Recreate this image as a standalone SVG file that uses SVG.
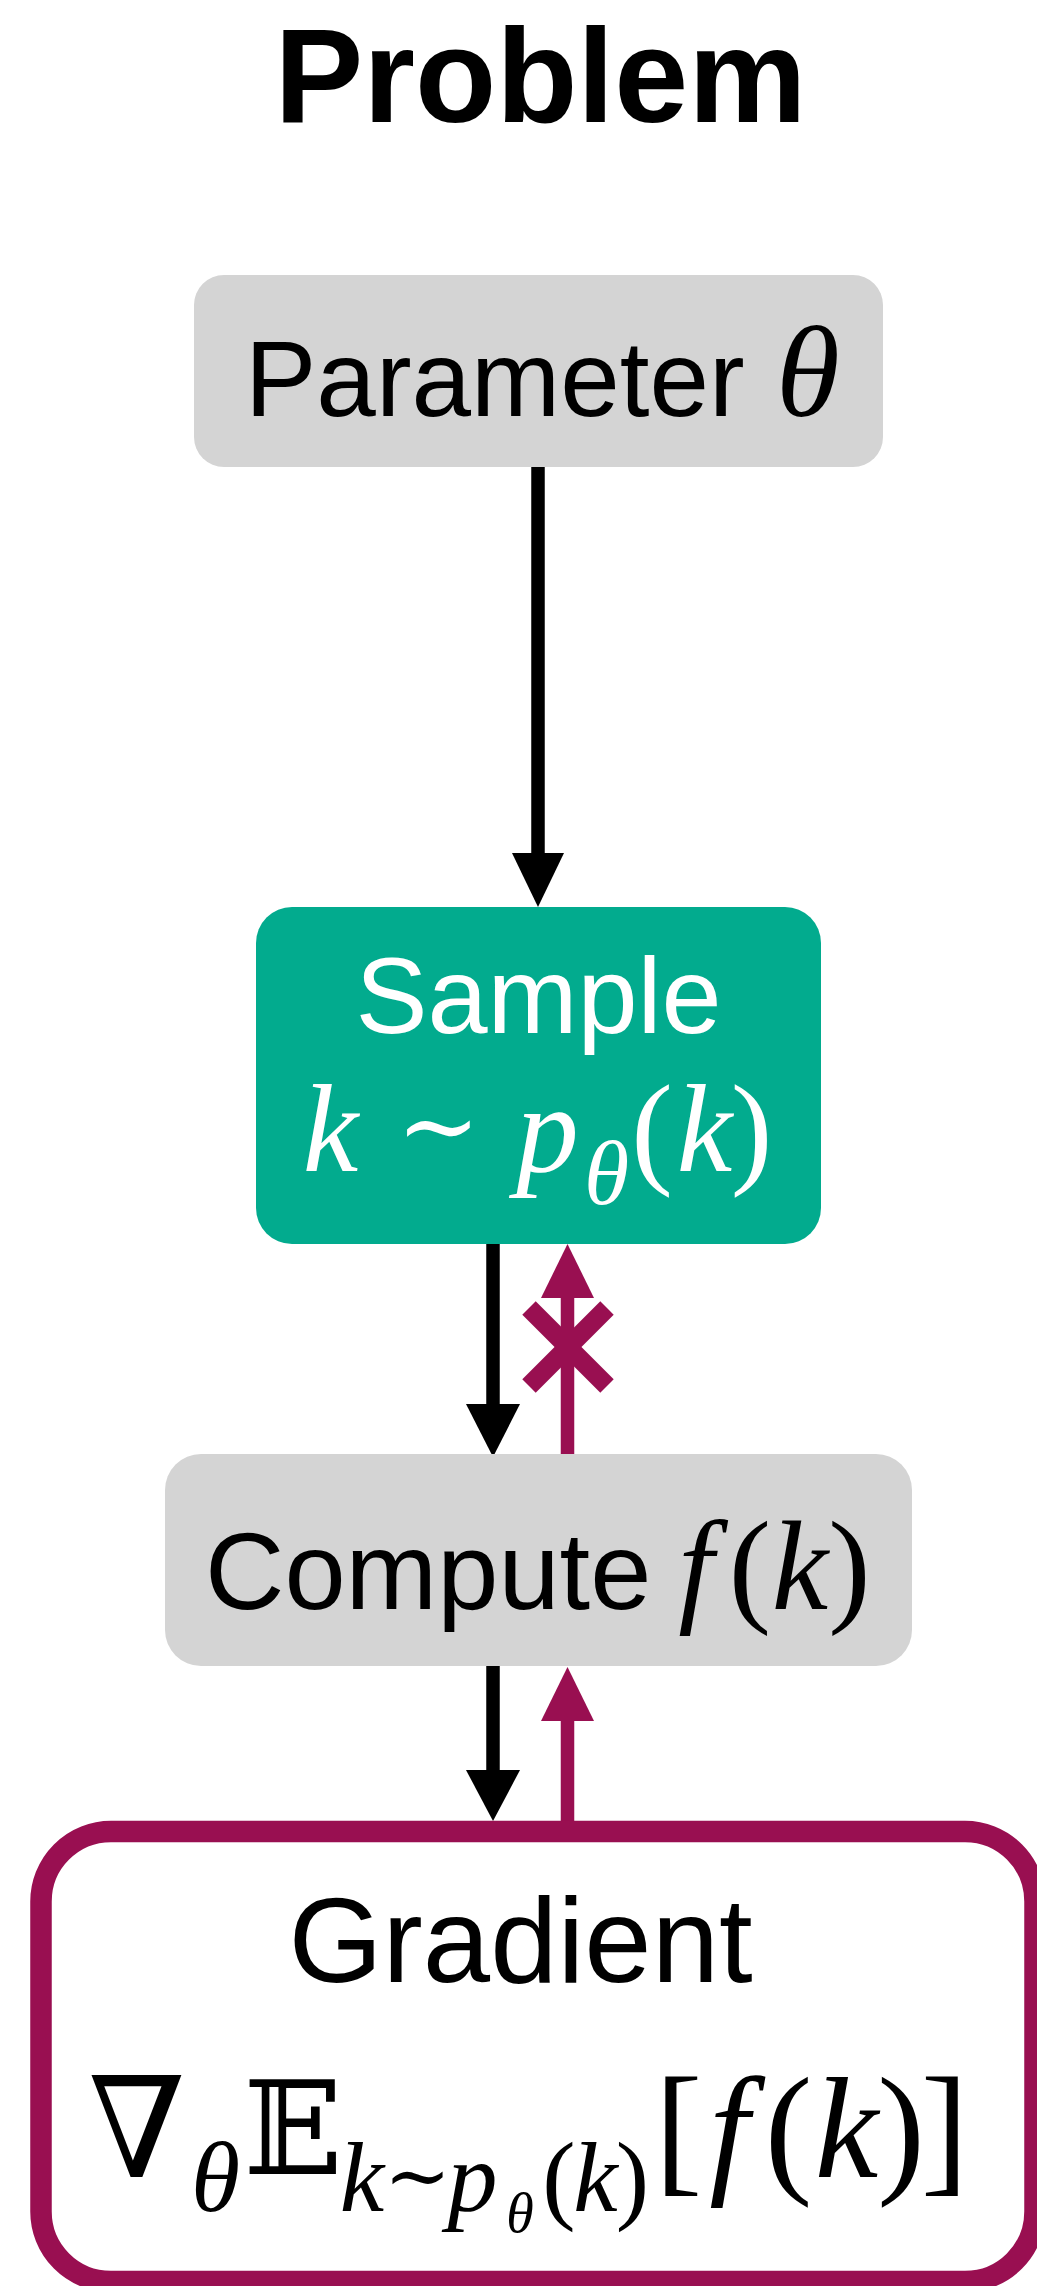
<svg xmlns="http://www.w3.org/2000/svg" width="1037" height="2286" viewBox="0 0 1037 2286">
  <style>
    .sans { font-family: "Liberation Sans", Arial, Helvetica, sans-serif; }
    .title { font-weight: bold; font-size: 133px; fill: #000; }
    .mi { font-family: "Liberation Serif", "Times New Roman", serif; font-style: italic; text-anchor: middle; }
    .mo { font-family: "Liberation Serif", "DejaVu Serif", serif; text-anchor: middle; }
    .bb { font-family: "DejaVu Serif", "DejaVu Sans", serif; text-anchor: middle; }
    .gray { fill: #d4d4d4; }
    .teal { fill: #02ab8e; }
    .line-k { stroke: #000; stroke-width: 13.5; fill: none; }
    .line-p { stroke: #990f51; stroke-width: 13.5; fill: none; }
    .head-k { fill: #000; }
    .head-p { fill: #990f51; }
  </style>

  <!-- heading -->
  <text class="sans title" x="540.5" y="122" text-anchor="middle">Problem</text>

  <!-- connectors -->
  <g id="connectors">
    <!-- parameter to sample -->
    <line class="line-k" x1="538" y1="467" x2="538" y2="856"/>
    <polygon class="head-k" points="512,853 564,853 538,907"/>
    <!-- sample to compute -->
    <line class="line-k" x1="493" y1="1244" x2="493" y2="1407"/>
    <polygon class="head-k" points="466,1404 520,1404 493,1457"/>
    <!-- blocked gradient path: compute back to sample -->
    <line class="line-p" x1="567.5" y1="1457" x2="567.5" y2="1295"/>
    <polygon class="head-p" points="541,1298 594,1298 567.5,1244"/>
    <g stroke="#990f51" stroke-width="19">
      <line x1="529" y1="1308" x2="607" y2="1386"/>
      <line x1="607" y1="1308" x2="529" y2="1386"/>
    </g>
    <!-- compute to gradient -->
    <line class="line-k" x1="493" y1="1666" x2="493" y2="1773"/>
    <polygon class="head-k" points="466,1770 520,1770 493,1821"/>
    <!-- gradient back to compute -->
    <line class="line-p" x1="567.5" y1="1824" x2="567.5" y2="1718"/>
    <polygon class="head-p" points="541,1721 594,1721 567.5,1667"/>
  </g>

  <!-- parameter node -->
  <g id="parameter">
    <rect class="gray" x="194" y="275" width="689" height="192" rx="30"/>
    <text class="sans" x="245" y="416" font-size="107">Parameter</text>
    <text class="mi" x="808" y="416" font-size="130">θ</text>
  </g>

  <!-- sample node -->
  <g id="sample">
    <rect class="teal" x="256" y="907" width="565" height="337" rx="36"/>
    <text class="sans" x="538.5" y="1033" font-size="108" fill="#fff" text-anchor="middle">Sample</text>
    <g fill="#fff">
      <text class="mi" x="330.5" y="1171" font-size="125">k</text>
      <text class="mo" x="438.5" y="1160" font-size="100">∼</text>
      <text class="mi" x="547.5" y="1171" font-size="125">p</text>
      <text class="mi" x="606.5" y="1204" font-size="92">θ</text>
      <text class="mo" x="652" y="1171" font-size="125">(</text>
      <text class="mi" x="704.5" y="1171" font-size="125">k</text>
      <text class="mo" x="751.5" y="1171" font-size="125">)</text>
    </g>
  </g>

  <!-- compute node -->
  <g id="compute">
    <rect class="gray" x="165" y="1454" width="747" height="212" rx="36"/>
    <text class="sans" x="205" y="1609" font-size="110">Compute</text>
    <text class="mi" x="696" y="1609" font-size="127">f</text>
    <text class="mo" x="750" y="1609" font-size="127">(</text>
    <text class="mi" x="800" y="1609" font-size="127">k</text>
    <text class="mo" x="849.5" y="1609" font-size="127">)</text>
  </g>

  <!-- gradient node -->
  <g id="gradient">
    <rect x="41" y="1831.5" width="994" height="450" rx="70" fill="#fff" stroke="#990f51" stroke-width="21.5"/>
    <text class="sans" x="520.5" y="1982" font-size="121" text-anchor="middle">Gradient</text>
    <text class="mo" x="137" y="2177" font-size="140">∇</text>
    <text class="mi" x="215.5" y="2211" font-size="100">θ</text>
    <text class="bb" x="293" y="2174" font-size="130">𝔼</text>
    <text class="mi" x="362" y="2211" font-size="100">k</text>
    <text class="mo" x="417.5" y="2203" font-size="80">∼</text>
    <text class="mi" x="472.5" y="2211" font-size="100">p</text>
    <text class="mi" x="520" y="2232" font-size="56">θ</text>
    <text class="mo" x="559" y="2211" font-size="100">(</text>
    <text class="mi" x="595.5" y="2211" font-size="100">k</text>
    <text class="mo" x="632.5" y="2211" font-size="100">)</text>
    <text class="mo" x="678.5" y="2177" font-size="143">[</text>
    <text class="mi" x="729" y="2177" font-size="143">f</text>
    <text class="mo" x="788.5" y="2177" font-size="143">(</text>
    <text class="mi" x="846.5" y="2177" font-size="143">k</text>
    <text class="mo" x="901" y="2177" font-size="143">)</text>
    <text class="mo" x="944.5" y="2177" font-size="143">]</text>
  </g>
</svg>
